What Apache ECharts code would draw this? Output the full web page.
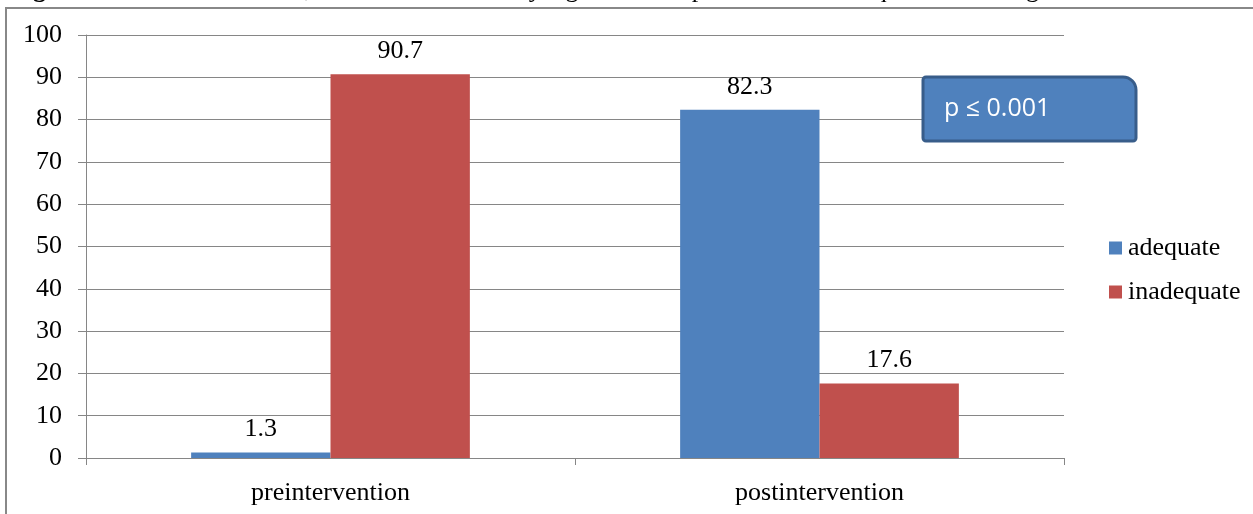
<!DOCTYPE html>
<html>
<head>
<meta charset="utf-8">
<script src="https://cdn.jsdelivr.net/npm/echarts@6/dist/echarts.min.js"></script>
<style>
html,body{margin:0;padding:0;background:#fff;}
#c{width:1253px;height:514px;}
</style>
</head>
<body>
<div id="c"></div>
<script>
var categories = ['preintervention', 'postintervention'];
var adequate = [1.3, 82.3];
var inadequate = [90.7, 17.6];
var yTicks = {min: 0, max: 100, interval: 10};
var captionBold = 'Figure 1:';
var caption = ' After intervention, there was statistically significant improvement of adequate knowledge re';
var note = 'p \u2264 0.001';

var serif = '"Liberation Serif", "Times New Roman", serif';
var chart = echarts.init(document.getElementById('c'));
var labelStyle = {show: true, position: 'top', distance: 10, fontFamily: serif, fontSize: 26, color: '#000'};
chart.setOption({
  animation: false,
  backgroundColor: '#fff',
  grid: {left: 86, right: 189, top: 35, bottom: 56},
  legend: {
    orient: 'vertical', left: 1104, top: 230, itemGap: 18,
    itemWidth: 13, itemHeight: 13, icon: 'rect',
    textStyle: {fontFamily: serif, fontSize: 26, color: '#000', padding: [0, 0, 0, 1]},
    itemStyle: {borderWidth: 0}
  },
  xAxis: {
    type: 'category', data: categories,
    axisLine: {lineStyle: {color: '#868686', width: 1}},
    axisTick: {show: true, length: 7, alignWithLabel: false, lineStyle: {color: '#868686'}},
    axisLabel: {fontFamily: serif, fontSize: 26, color: '#000', margin: 22}
  },
  yAxis: {
    type: 'value', min: yTicks.min, max: yTicks.max, interval: yTicks.interval,
    axisLine: {show: true, lineStyle: {color: '#868686', width: 1}},
    axisTick: {show: true, length: 8, lineStyle: {color: '#868686'}},
    axisLabel: {fontFamily: serif, fontSize: 26, color: '#000', margin: 24},
    splitLine: {lineStyle: {color: '#868686', width: 1}}
  },
  series: [
    {name: 'adequate', type: 'bar', data: adequate, barGap: '0%', barCategoryGap: '43%',
     itemStyle: {color: '#4F81BD'}, label: labelStyle},
    {name: 'inadequate', type: 'bar', data: inadequate, barGap: '0%', barCategoryGap: '43%',
     itemStyle: {color: '#C0504D'}, label: labelStyle}
  ],
  graphic: [
    {type: 'rect', silent: true, z: -1, shape: {x: 6, y: 8, width: 1400, height: 700},
     style: {fill: 'none', stroke: '#888888', lineWidth: 2}},
    {type: 'text', silent: true, x: 10, y: 3, z: 50,
     style: {
       text: '{b|' + captionBold + '}{r|' + caption + '}',
       verticalAlign: 'bottom',
       rich: {b: {fontFamily: serif, fontSize: 26, fontWeight: 'bold', fill: '#000'},
              r: {fontFamily: serif, fontSize: 26, fill: '#000'}}
     }},
    {type: 'rect', silent: true, z: 100, shape: {x: 923, y: 77, width: 213, height: 64, r: [3, 13, 3, 3]},
     style: {fill: '#4F81BD', stroke: '#385D8A', lineWidth: 3}},
    {type: 'text', silent: true, z: 101, x: 944, y: 109,
     style: {text: note, fontFamily: '"Open Sans", "Liberation Sans", sans-serif', fontSize: 25, fill: '#fff', verticalAlign: 'middle', align: 'left'}}
  ]
});
</script>
</body>
</html>
